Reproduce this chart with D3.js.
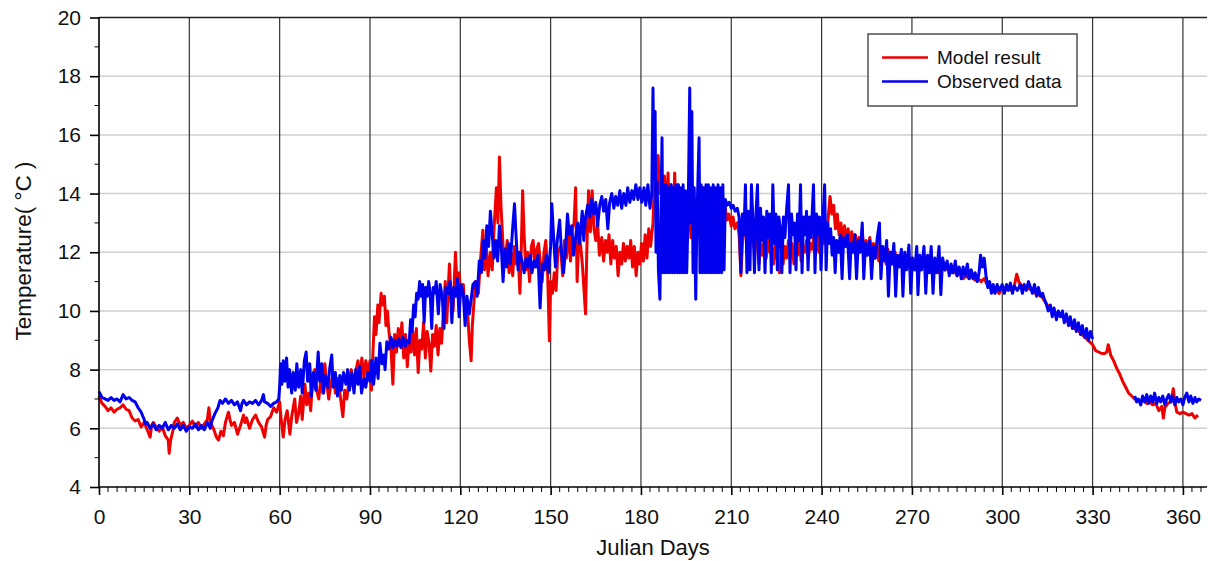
<!DOCTYPE html>
<html>
<head>
<meta charset="utf-8">
<script src="https://cdn.jsdelivr.net/npm/d3@7"></script>
<style>
html,body{margin:0;padding:0;background:#fff;}
svg{display:block;font-family:"Liberation Sans",Arial,sans-serif;}
</style>
</head>
<body>
<svg id="chart" width="1208" height="561"></svg>
<script>
// ---------- data ----------
const seriesNames = ["Model result", "Observed data"];
const xTicks = [0, 30, 60, 90, 120, 150, 180, 210, 240, 270, 300, 330, 360];
const yTicks = [4, 6, 8, 10, 12, 14, 16, 18, 20];
const xLabel = "Julian Days";
const yLabel = "Temperature( °C )";

// Model result: [julian day, temperature °C]
const modelResult = [
[0,7.1],[1,6.85],[2,6.75],[3,6.6],[4,6.7],[5,6.55],[6,6.65],[7,6.7],[8,6.8],[9,6.65],[10,6.6],[11,6.35],[12,6.25],[13,6.3],[14,6.05],[15,6.2],[16,5.95],[17,5.7],[17.5,6.1],[18,6.2],[19,6.05],[20,5.9],[21,6.05],[22,5.75],[23,5.6],[23.3,5.15],[23.8,5.6],[24.5,5.9],[25,6.2],[26,6.35],[27,6.1],[28,6.2],[29,6.0],[30,6.1],[31,6.25],[32,6.05],[33,6.2],[34,6.0],[35,6.15],[36,6.3],[36.5,6.7],[37,6.2],[38,6.0],[39,5.7],[39.7,5.6],[40.5,5.9],[41.3,5.75],[42,6.2],[43,6.55],[43.5,6.3],[44,6.1],[45,6.2],[46,5.8],[47,6.1],[48,6.45],[48.5,6.2],[49,6.35],[50,6.0],[51,6.3],[52,6.45],[53,6.2],[54,6.05],[55,5.7],[55.5,6.1],[56,6.3],[57,6.4],[58,6.7],[59,6.55],[60,6.9],[60.5,6.3],[61.2,5.7],[61.8,6.3],[62.5,6.6],[63.4,5.8],[64,6.4],[65,7.0],[65.6,6.2],[66.3,6.5],[67,7.1],[67.5,6.3],[68.4,7.5],[69,6.8],[69.7,7.2],[70.3,6.6],[71,7.7],[71.7,8.0],[72.3,7.3],[73,7.0],[73.6,7.6],[74.3,7.2],[75,8.2],[75.6,7.6],[76.3,7.0],[77,7.5],[77.8,7.9],[78.5,7.2],[79.2,7.7],[80,7.2],[81,6.4],[81.6,7.3],[82.3,7.0],[83,7.6],[83.8,8.0],[84.5,7.4],[85.2,7.9],[86,8.3],[86.6,7.6],[87.3,8.4],[88,7.7],[88.6,8.3],[89.3,7.9],[90,8.3],[90.5,7.3],[91,8.6],[91.5,9.8],[92,9.2],[92.6,10.2],[93,9.6],[93.7,10.6],[94.2,10.2],[94.8,10.5],[95.3,9.5],[95.8,10.0],[96.3,9.3],[97,8.7],[97.6,7.5],[98.2,9.2],[98.8,8.6],[99.4,9.4],[100,8.8],[100.6,9.6],[101.2,8.4],[101.8,9.2],[102.4,8.1],[103,9.0],[103.6,8.6],[104.2,9.3],[104.8,8.5],[105.4,9.4],[106,7.9],[106.6,9.0],[107.2,8.7],[107.8,9.6],[108.4,8.4],[109,9.3],[109.6,8.9],[110.2,7.95],[110.8,9.2],[111.4,8.8],[112,9.5],[112.6,8.5],[113.2,9.4],[113.8,8.9],[114.4,10.0],[115,11.0],[115.5,9.6],[116,10.8],[116.4,11.6],[117,10.3],[117.6,10.0],[118.4,12.0],[119,10.6],[119.6,11.3],[120.2,10.5],[121,10.9],[121.6,9.9],[122.2,10.3],[123,9.0],[123.6,8.3],[124,9.5],[124.6,10.4],[125.2,11.0],[126,10.6],[126.6,11.6],[127.5,12.75],[128,11.4],[128.6,12.3],[129.2,11.2],[130,12.0],[130.6,11.4],[131.2,12.8],[132,14.2],[132.5,13.0],[133,15.25],[133.5,13.6],[134.2,12.2],[135,11.8],[135.6,12.4],[136.2,11.3],[136.8,12.0],[137.4,11.2],[138,12.2],[138.6,11.6],[139.2,12.0],[139.8,10.6],[140.3,12.3],[140.7,14.1],[141.2,12.6],[141.8,11.4],[142.4,12.0],[143,11.0],[143.6,12.2],[144.2,12.4],[144.8,11.5],[145.4,12.1],[146,12.3],[146.6,11.6],[147.2,11.0],[147.8,12.0],[148.4,12.4],[149,11.3],[149.6,8.98],[150,11.0],[150.6,10.6],[151.2,11.3],[151.8,10.7],[152.4,12.0],[153.3,12.2],[154,11.2],[154.6,12.4],[155.2,11.8],[156,12.6],[156.6,11.7],[157.2,12.8],[157.8,13.0],[158.3,14.2],[158.8,11.0],[159.4,12.6],[160,12.2],[160.6,11.5],[161.6,9.9],[162,12.0],[162.6,14.1],[163.2,12.7],[163.8,14.1],[164.4,12.8],[165,12.4],[165.6,13.0],[166.2,11.9],[167,12.5],[167.6,11.7],[168.2,12.4],[168.8,12.0],[169.4,12.6],[170,11.6],[170.6,12.4],[171.2,11.8],[171.8,12.2],[172.4,11.2],[173,12.0],[173.6,11.6],[174.2,12.3],[174.8,11.7],[175.4,12.2],[176,11.8],[176.6,12.4],[177.2,11.5],[177.8,12.2],[178.4,11.2],[179,12.0],[179.6,11.6],[180.2,12.3],[180.8,11.7],[181.4,12.6],[182,11.8],[182.6,12.8],[183.2,12.2],[184,13.0],[184.5,14.6],[185,13.6],[185.7,15.3],[186.2,14.0],[186.8,14.8],[187.3,13.5],[187.8,14.6],[188.3,13.2],[189,14.7],[189.5,13.0],[190,14.3],[190.6,12.5],[191.2,14.7],[191.8,12.8],[192.4,14.3],[193,12.6],[193.6,14.0],[194.2,12.7],[194.8,13.8],[195.4,12.6],[196,13.6],[196.6,12.5],[197.2,13.5],[197.8,12.4],[198.4,13.8],[199,12.6],[199.6,13.5],[200.2,12.5],[200.8,14.2],[201.4,12.6],[202,13.8],[202.6,12.4],[203.2,14.0],[203.8,12.6],[204.4,13.7],[205,12.5],[205.6,14.0],[206.2,12.6],[206.8,13.6],[207.4,12.6],[208,13.5],[208.6,13.1],[209.2,13.3],[210,12.9],[210.6,13.2],[211.2,12.8],[212,13.0],[212.6,12.6],[213.2,11.2],[213.8,12.5],[214.4,13.2],[215,12.4],[215.6,13.0],[216.2,12.6],[216.8,13.1],[217.4,12.2],[218,12.6],[218.6,12.3],[219.2,11.6],[219.8,12.3],[220.4,11.9],[221,12.4],[221.6,11.8],[222.2,12.5],[222.8,12.0],[223.4,12.3],[224,11.6],[224.6,12.2],[225.2,11.8],[226,11.3],[226.6,12.0],[227.2,11.6],[227.8,12.2],[228.4,11.8],[229,12.4],[229.6,11.9],[230.2,12.3],[230.8,11.6],[231.4,12.2],[232,11.9],[232.6,12.4],[233.2,11.7],[233.8,12.2],[234.4,12.0],[235,12.4],[235.6,11.8],[236.2,12.3],[236.8,12.1],[237.4,12.5],[238,11.9],[238.6,12.6],[239.2,12.0],[239.8,12.5],[240.4,12.3],[241,12.7],[241.6,12.2],[242.2,13.2],[242.8,13.9],[243.4,13.3],[244,13.6],[244.6,12.8],[245.2,13.3],[245.8,12.6],[246.4,13.0],[247,12.4],[247.6,12.9],[248.2,12.3],[248.8,12.8],[249.4,12.2],[250,12.7],[250.6,12.1],[251.2,12.6],[251.8,12.0],[252.4,12.5],[253,12.1],[253.6,12.6],[254.2,11.9],[254.8,12.4],[255.4,12.0],[256,12.5],[256.6,11.9],[257.2,12.3],[257.8,11.8],[258.4,12.3],[259,11.7],[259.6,12.2],[260.2,11.8],[260.8,12.1],[261.4,11.6],[262,12.1],[262.6,11.7],[263.2,12.0],[263.8,11.6],[264.4,12.0],[265,11.5],[266,11.9],[267,11.6],[268,11.9],[269,11.5],[270,11.8],[271,11.5],[272,11.8],[273,11.4],[274,11.9],[275,11.6],[276,11.7],[277,11.4],[278,11.6],[279,11.3],[280,11.5],[281,11.4],[282,11.5],[283,11.3],[284,11.4],[285,11.2],[286,11.3],[287,11.1],[288,11.2],[289,11.1],[290,11.15],[291,11.05],[292,11.1],[293,11.0],[294,11.1],[295,10.9],[296,10.8],[297,10.75],[298,10.7],[299,10.6],[300,10.8],[301,10.7],[302,10.8],[303,10.7],[304,10.85],[304.8,11.25],[305.5,11.0],[306,10.9],[307,10.85],[308,10.8],[309,10.75],[310,10.7],[311,10.6],[312,10.55],[313,10.5],[314,10.35],[315,10.2],[316,10.1],[317,10.0],[318,9.9],[319,9.85],[320,9.8],[321,9.7],[322,9.6],[323,9.5],[324,9.4],[325,9.35],[326,9.25],[327,9.15],[328,9.05],[329,8.95],[330,8.85],[331,8.65],[332,8.6],[333,8.55],[334,8.55],[334.7,8.6],[335.2,8.85],[336,8.5],[337,8.3],[338,8.05],[339,7.85],[340,7.6],[341,7.4],[342,7.2],[343,7.1],[344,7.0],[345,6.95],[346,6.9],[347,6.95],[348,6.85],[349,6.9],[350,6.8],[351,6.85],[352,6.6],[353,6.75],[353.5,6.35],[354,6.7],[355,6.85],[356,6.9],[356.8,7.35],[357.3,6.9],[358,6.55],[359,6.5],[360,6.55],[361,6.5],[362,6.45],[363,6.5],[364,6.35],[365,6.45]
];

// Observed data: [julian day, temperature °C]; null = no observation
const observedData = [
[0,7.25],[1,7.05],[2,7.0],[3,6.95],[4,7.05],[5,6.95],[6,7.0],[7,6.9],[8,7.15],[9,7.0],[10,7.05],[11,6.95],[12,6.9],[13,6.7],[14,6.55],[15,6.3],[15.5,6.15],[16,6.2],[17,6.0],[18,6.15],[19,5.95],[20,6.1],[21,6.0],[22,6.2],[23,5.95],[24,6.1],[25,6.0],[26,6.15],[27,5.95],[28,6.1],[29,5.9],[30,6.05],[31,6.0],[32,6.15],[33,5.95],[34,6.1],[35,5.95],[36,6.2],[37,6.0],[37.5,6.25],[38.5,6.5],[39.5,6.7],[40.2,6.95],[41,6.85],[42,7.0],[43,6.85],[44,6.95],[45,6.8],[46,6.9],[47,6.6],[47.5,6.85],[48,6.95],[49,6.8],[50,6.9],[51,6.85],[52,6.95],[53,6.8],[54,6.95],[54.6,7.15],[55,6.9],[56,6.85],[57,6.75],[58,6.85],[59,6.9],[59.7,7.0],
[60,7.4],[60.3,8.2],[60.7,7.5],[61.2,8.3],[61.7,7.6],[62.3,8.4],[62.8,7.4],[63.3,8.0],[64,7.2],[64.5,7.9],[65.2,7.3],[65.7,8.2],[66.3,7.4],[67,8.0],[67.5,7.2],[68.2,8.3],[68.8,8.6],[69.3,7.6],[70,8.2],[70.5,7.1],[71.2,7.9],[72,7.3],[72.8,8.6],[73.3,7.6],[74,8.2],[74.6,7.2],[75.2,7.8],[76,7.4],[76.7,8.1],[77.3,8.5],[77.8,7.4],[78.5,7.9],[79.2,7.1],[80,7.8],[80.5,7.3],[81.2,7.9],[82,7.5],[82.6,8.0],[83.2,7.3],[84,7.9],[84.7,7.2],[85.3,8.0],[86,7.5],[86.6,8.1],[87.2,7.2],[88,7.7],[88.6,7.4],[89.3,7.9],[90,7.6],[90.6,8.3],[91.2,7.5],[92,8.4],[92.7,7.7],[93.3,8.9],[94,8.2],[94.6,8.5],[95,8.0],[95.6,8.95],[96.2,8.7],[97,9.1],[97.6,8.75],[98.3,9.0],[99,8.8],[99.6,9.05],[100.3,8.75],[101,9.1],[101.7,8.8],[102.3,9.0],[103,8.9],[103.5,9.7],[104,9.3],[104.5,10.2],[105,9.8],[105.5,10.6],[106,10.4],[106.5,11.0],[107,10.5],[107.5,10.9],[108,9.6],[108.5,10.8],[109,10.5],[109.5,11.0],[110,10.6],[110.5,9.4],[111,10.8],[111.5,10.6],[112,11.0],[112.7,9.9],[113.3,10.9],[114,10.5],[114.6,9.4],[115.2,10.8],[116,10.6],[116.6,11.0],[117.2,9.6],[117.8,10.8],[118.4,10.5],[119,11.1],[119.6,9.8],[120.2,10.9],[121,10.6],[121.6,9.5],[122.2,10.5],[123,9.9],[123.6,10.4],[124.2,10.9],[125,11.0],[125.6,10.5],[126.3,11.7],[127,11.3],[127.6,12.4],[128.2,11.8],[128.8,12.9],[129.4,12.2],[130,13.4],[130.6,12.6],[131.2,11.8],[131.8,12.4],[132.4,11.7],[133,12.9],[133.6,12.2],[134.2,11.0],[134.8,12.1],[135.4,11.5],[136,12.3],[136.6,11.6],[137.3,12.7],[138,13.65],[138.6,12.4],[139.2,11.4],[139.8,12.0],[140.5,11.7],[141.2,11.3],[141.8,11.8],[142.5,11.5],[143.2,11.9],[143.8,11.3],[144.5,11.7],[145.2,11.5],[145.8,11.9],[146.5,10.1],[147.2,11.6],[148,11.4],[148.6,11.9],[149.3,11.3],[150,12.2],[150.4,13.65],[151,12.5],[151.6,11.5],[152.2,12.4],[153,13.1],[153.6,12.0],[154.3,11.3],[155,12.2],[155.6,13.3],[156.2,12.6],[157,12.9],[157.6,11.9],[158.3,12.5],[159,13.0],[159.6,12.3],[160.5,13.4],[161,12.4],[161.6,13.2],[162.3,13.6],[163,13.2],[163.6,13.8],[164.3,13.3],[165,13.7],[165.6,12.9],[166.3,13.6],[167,13.9],[167.6,13.4],[168.3,13.8],[169,12.8],[169.6,13.7],[170.3,14.0],[171,13.5],[171.6,13.9],[172.3,13.6],[173,14.1],[173.6,13.5],[174.3,14.0],[175,13.6],[175.6,14.2],[176.3,13.7],[177,14.1],[177.6,13.8],[178.3,14.3],[179,13.8],[179.6,14.2],[180.3,13.7],[181,14.2],[181.6,13.6],[182.3,14.3],[183,13.5],[183.6,14.0],[184,17.6],[184.3,14.5],[184.7,16.8],[185,12.0],[185.4,14.4],[185.8,11.4],[186.3,10.4],[186.6,13.0],[187,15.9],[187.3,11.3],[187.7,14.3],[188,11.3],[188.4,14.3],[188.8,11.3],[189.2,14.2],[189.6,11.3],[190,14.3],[190.4,11.3],[190.8,14.2],[191.2,11.3],[191.6,14.3],[192,11.3],[192.4,14.3],[192.8,11.3],[193.2,14.2],[193.6,11.3],[194,14.3],[194.4,11.3],[194.8,14.1],[195.2,11.3],[195.7,13.5],[196.2,17.6],[196.5,13.0],[196.9,16.8],[197.3,11.3],[197.7,14.2],[198.2,10.4],[198.6,13.2],[199.3,15.9],[199.6,11.3],[200,14.3],[200.4,11.3],[200.8,14.2],[201.2,11.3],[201.6,14.3],[202,11.3],[202.4,14.3],[202.8,11.3],[203.2,14.2],[203.6,11.3],[204,14.3],[204.4,11.3],[204.8,14.2],[205.2,11.3],[205.6,14.3],[206,11.3],[206.4,14.2],[206.8,11.3],[207.2,14.3],[207.6,11.4],[208,13.8],[208.6,13.6],[209.3,13.7],[210,13.5],[210.6,13.6],[211.3,13.4],[212,13.5],[212.6,13.2],[213.2,11.3],[213.7,13.3],[214.2,12.6],[214.7,14.3],[215.2,11.3],[215.7,13.4],[216.2,11.4],[216.7,14.3],[217.2,13.0],[217.7,11.3],[218.2,13.3],[218.7,14.3],[219.2,11.4],[219.7,13.5],[220.2,12.4],[220.7,13.2],[221.2,11.3],[221.8,13.4],[222.3,12.5],[222.8,13.3],[223.3,11.3],[223.8,14.3],[224.3,12.3],[224.8,13.3],[225.3,11.4],[225.8,13.2],[226.3,12.8],[226.8,11.3],[227.3,13.2],[227.8,12.5],[228.4,13.5],[229,14.3],[229.5,11.3],[230,13.3],[230.5,12.6],[231,13.0],[231.5,11.4],[232,13.3],[232.5,12.4],[233,14.3],[233.5,11.3],[234,13.2],[234.5,12.6],[235,13.4],[235.5,11.4],[236,13.2],[236.5,12.5],[237.3,14.3],[237.8,11.3],[238.3,13.3],[238.8,12.6],[239.3,13.2],[239.8,11.4],[240.5,13.2],[241,14.3],[241.5,11.4],[242,13.0],[242.5,12.3],[243,12.8],[243.5,11.9],[244,12.5],[244.5,11.3],[245,12.4],[245.6,12.0],[246.2,12.6],[246.8,11.1],[247.3,12.5],[248,12.2],[248.6,12.6],[249.3,11.1],[249.8,12.3],[250.4,12.0],[251,12.6],[251.6,11.1],[252.2,12.4],[252.8,12.0],[253.5,13.0],[254,11.1],[254.6,12.3],[255.2,11.9],[256,12.4],[256.6,11.1],[257.2,12.2],[257.8,11.8],[258.5,12.5],[259.2,13.0],[259.7,11.1],[260.3,12.2],[261,11.7],[261.6,12.4],[262.2,10.5],[262.8,12.0],[263.4,11.6],[264,12.3],[264.6,10.5],[265.2,11.9],[265.8,11.5],[266.5,12.1],[267,10.5],[267.6,12.0],[268.2,11.4],[269,12.25],[269.6,10.6],[270.2,11.8],[271,11.4],[271.6,12.2],[272,10.55],[272.6,11.9],[273.2,11.4],[274,12.2],[274.6,10.6],[275.2,11.9],[275.8,11.3],[276.4,12.2],[277,10.6],[277.6,11.8],[278.2,11.3],[279,12.2],[279.6,10.55],[280.2,11.8],[281,11.4],[281.7,11.7],[282.4,11.2],[283,11.6],[283.7,11.3],[284.4,11.7],[285,11.2],[285.7,11.5],[286.4,11.1],[287,11.5],[287.7,11.2],[288.4,11.6],[289,11.1],[289.7,11.4],[290.4,11.1],[291,11.3],[291.7,11.0],[292.3,11.3],[292.8,11.9],[293.4,11.5],[294,11.8],[294.6,11.2],[295.2,10.8],[295.8,11.0],[296.4,10.6],[297,10.9],[297.6,10.6],[298.3,10.9],[299,10.7],[300,10.9],[300.7,10.6],[301.4,10.9],[302,10.7],[302.7,10.95],[303.4,10.6],[304,10.85],[305,10.7],[306,10.9],[306.7,10.6],[307.3,10.9],[308,10.7],[308.7,11.0],[309.4,10.8],[310,10.6],[310.7,10.9],[311.4,10.5],[312,10.8],[312.7,10.5],[313.4,10.6],[314,10.4],[314.7,10.2],[315.3,10.0],[316,10.2],[316.6,9.8],[317.2,10.1],[318,9.7],[318.6,10.0],[319.3,9.8],[320,10.0],[320.6,9.6],[321.3,9.9],[322,9.5],[322.6,9.8],[323.3,9.4],[324,9.7],[324.6,9.3],[325.3,9.6],[326,9.2],[326.6,9.5],[327.3,9.1],[328,9.4],[328.6,9.0],[329.3,9.3],[330,9.05],
[337,null],
[344,7.1],[344.6,6.9],[345.2,7.0],[346,6.8],[346.6,7.1],[347.3,6.9],[348,7.15],[348.6,6.85],[349.3,7.1],[350,6.9],[350.6,7.2],[351.3,6.85],[352,7.05],[352.6,6.9],[353.3,7.1],[354,6.8],[354.6,7.0],[355.3,7.15],[356,6.9],[356.6,7.1],[357.3,6.8],[358,7.05],[358.6,6.9],[359.3,7.0],[360,6.8],[360.6,7.05],[361.3,7.2],[362,6.9],[362.6,7.1],[363.3,6.85],[364,7.05],[364.6,6.9],[365.3,7.0],[366,6.95]
];

const seriesColors = ["#ee0000", "#0000ee"];

// ---------- layout ----------
const svg = d3.select("#chart");
const plotLeft = 99, plotRight = 1207, plotTop = 17.5, plotBottom = 487;
const x = d3.scaleLinear().domain([0, 368]).range([plotLeft, plotRight]);
const y = d3.scaleLinear().domain([4, 20]).range([plotBottom, plotTop]);

// horizontal grid (light)
svg.append("g").selectAll("line")
  .data(yTicks.filter(v => v > 4 && v < 20)).join("line")
  .attr("x1", plotLeft).attr("x2", plotRight)
  .attr("y1", d => y(d)).attr("y2", d => y(d))
  .attr("stroke", "#cfcfcf").attr("stroke-width", 1.5);

// vertical grid (dark)
svg.append("g").selectAll("line")
  .data(xTicks.filter(v => v > 0)).join("line")
  .attr("x1", d => x(d)).attr("x2", d => x(d))
  .attr("y1", plotTop).attr("y2", plotBottom)
  .attr("stroke", "#333").attr("stroke-width", 1.2);

// top frame line
svg.append("line").attr("x1", plotLeft).attr("x2", plotRight)
  .attr("y1", y(20)).attr("y2", y(20))
  .attr("stroke", "#222").attr("stroke-width", 1.5);

// series lines
const line = d3.line()
  .defined(d => d[1] !== null)
  .x(d => x(d[0])).y(d => y(d[1]));

[modelResult, observedData].forEach((data, i) => {
  svg.append("path").datum(data)
    .attr("fill", "none")
    .attr("stroke", seriesColors[i])
    .attr("stroke-width", 3)
    .attr("stroke-linejoin", "round")
    .attr("d", line);
});

// x axis
const xMinor = d3.range(0, 367, 3);
const xAxis = d3.axisBottom(x).tickValues(xTicks).tickSize(8).tickPadding(14).tickFormat(d3.format("d"));
const gx = svg.append("g").attr("transform", `translate(0,${plotBottom})`);
gx.selectAll("line.minor").data(xMinor.filter(v => v % 30 !== 0)).join("line")
  .attr("class", "minor")
  .attr("x1", d => x(d)).attr("x2", d => x(d))
  .attr("y1", 0).attr("y2", 5)
  .attr("stroke", "#000").attr("stroke-width", 1);
gx.call(xAxis);
gx.select(".domain").attr("d", `M${plotLeft},0H${plotRight}`).attr("stroke", "#000").attr("stroke-width", 1.6);
gx.selectAll(".tick line").attr("stroke", "#000").attr("stroke-width", 1.6);
gx.selectAll(".tick text").attr("font-size", 21).attr("fill", "#111")
  .attr("font-family", "Liberation Sans, Arial, sans-serif");

// y axis
const yMinor = d3.range(5, 20, 2);
const yAxis = d3.axisLeft(y).tickValues(yTicks).tickSize(9).tickPadding(9).tickFormat(d3.format("d"));
const gy = svg.append("g").attr("transform", `translate(${plotLeft},0)`);
gy.selectAll("line.minor").data(yMinor).join("line")
  .attr("class", "minor")
  .attr("x1", -4.5).attr("x2", 0)
  .attr("y1", d => y(d)).attr("y2", d => y(d))
  .attr("stroke", "#000").attr("stroke-width", 1);
gy.call(yAxis);
gy.select(".domain").attr("d", `M0,${plotBottom}V${plotTop}`).attr("stroke", "#000").attr("stroke-width", 1.6);
gy.selectAll(".tick line").attr("stroke", "#000").attr("stroke-width", 1.6);
gy.selectAll(".tick text").attr("font-size", 21).attr("fill", "#111")
  .attr("font-family", "Liberation Sans, Arial, sans-serif");

// axis titles
svg.append("text").attr("x", (plotLeft + plotRight) / 2).attr("y", 555)
  .attr("text-anchor", "middle").attr("font-size", 22).attr("fill", "#111")
  .text(xLabel);
svg.append("text")
  .attr("transform", `translate(31,251) rotate(-90)`)
  .attr("text-anchor", "middle").attr("font-size", 22.5).attr("fill", "#111")
  .text(yLabel);

// legend
const lg = svg.append("g");
lg.append("rect").attr("x", 868).attr("y", 34).attr("width", 209).attr("height", 72)
  .attr("fill", "#fff").attr("stroke", "#444").attr("stroke-width", 1.4);
seriesNames.forEach((name, i) => {
  const yy = 57.5 + i * 24;
  lg.append("line").attr("x1", 882).attr("x2", 928).attr("y1", yy).attr("y2", yy)
    .attr("stroke", seriesColors[i]).attr("stroke-width", 2.6);
  lg.append("text").attr("x", 937).attr("y", yy).attr("dy", "0.35em")
    .attr("font-size", 19).attr("fill", "#111").text(name);
});
</script>
</body>
</html>
